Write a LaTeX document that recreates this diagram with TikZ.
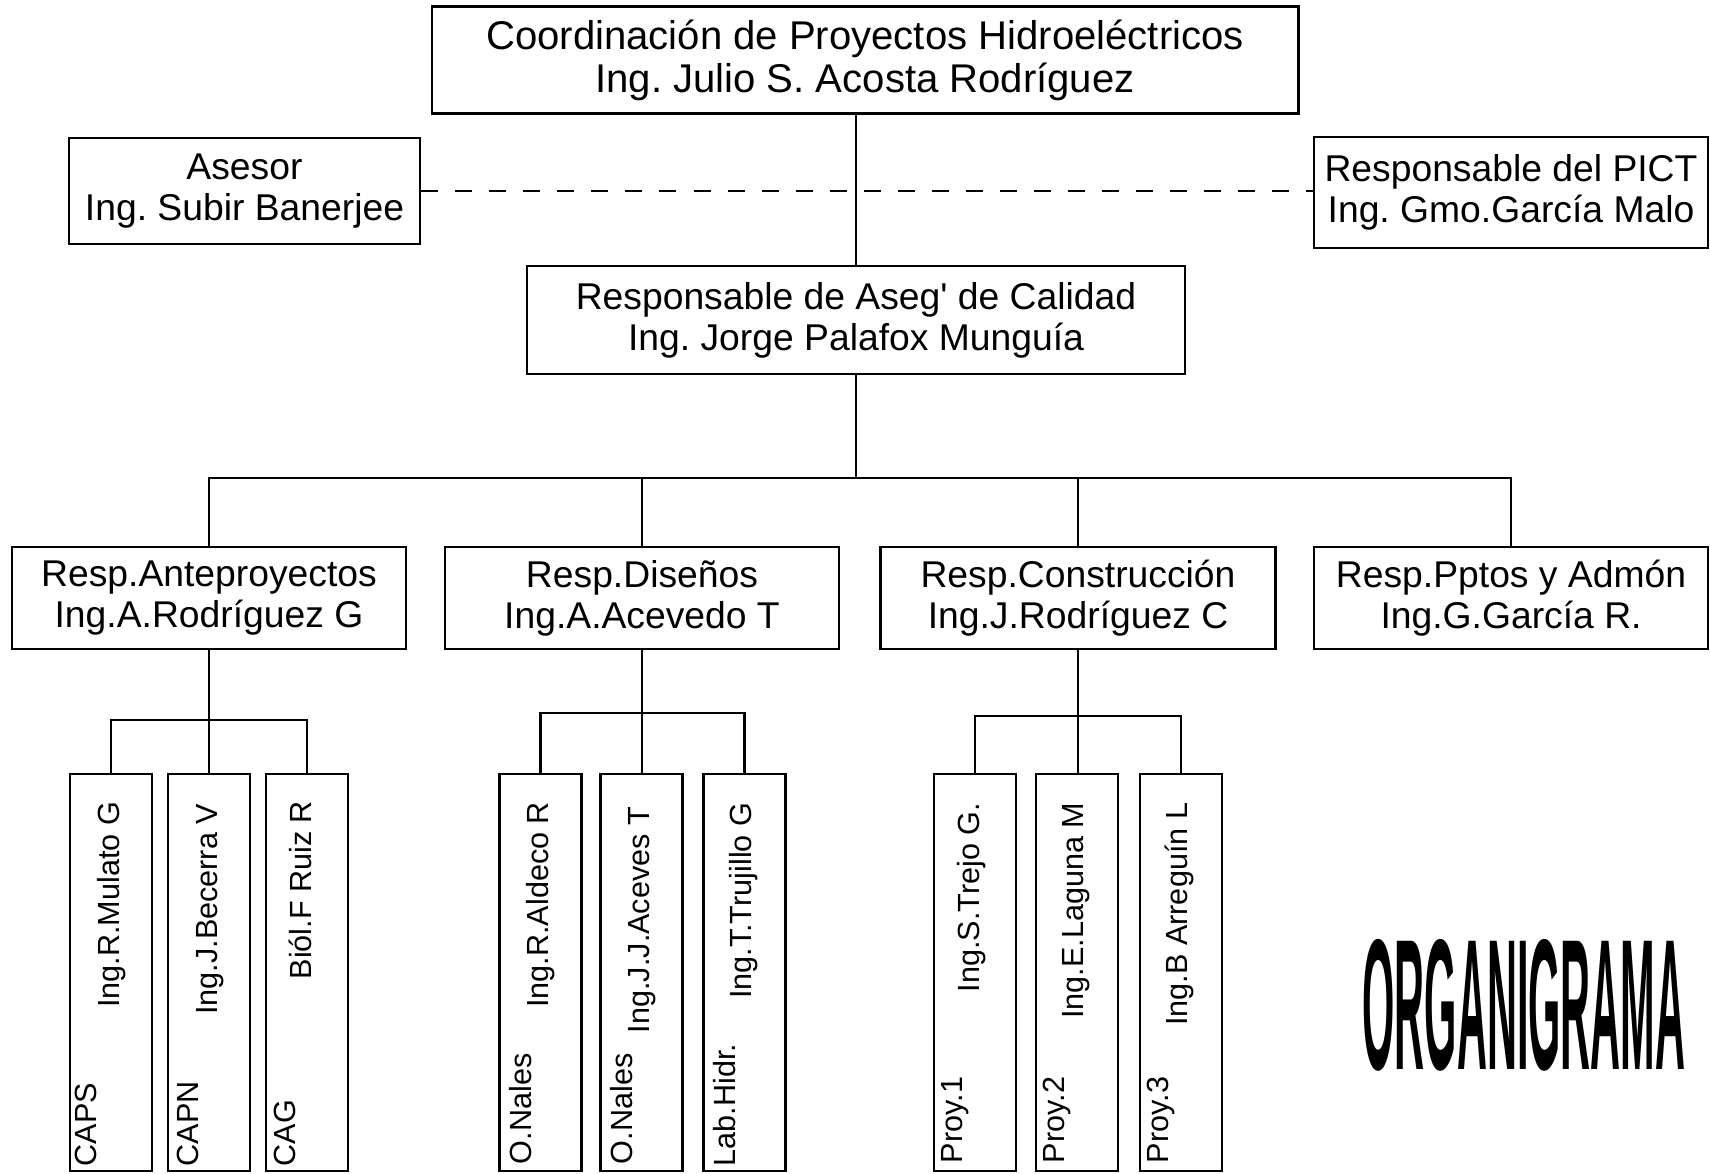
\documentclass[tikz,border=0pt]{standalone}
\usepackage{fontspec}
\setmainfont{Liberation Sans}
\usetikzlibrary{calc}
\frenchspacing

\begin{document}
\begin{tikzpicture}[
			x = 0.01cm, y = -0.01cm,
			line width = 0.7pt,
			box/.style = {draw, align=center, inner sep=0pt, font=\fontsize{10.6}{11.6}\selectfont},
			leaf/.style = {draw, inner sep=0pt, minimum width=0.82cm, minimum height=3.97cm},
			who/.style = {rotate=90, inner sep=0pt, font=\fontsize{8.7}{9}\selectfont}
			]

			\useasboundingbox (0,0) rectangle (1710,1173);

			\node[box, minimum width=8.66cm, minimum height=1.07cm, font=\fontsize{11.4}{12.2}\selectfont] (coord) at (865,60) {Coordinación de Proyectos Hidroeléctricos\\Ing. Julio S. Acosta Rodríguez};
			\node[box, minimum width=3.51cm, minimum height=1.06cm] (asesor) at (244.5,191) {Asesor\\Ing. Subir Banerjee};
			\node[box, minimum width=3.94cm, minimum height=1.11cm] (pict) at (1511,192.5) {Responsable del PICT\\Ing. Gmo.García Malo};
			\node[box, minimum width=6.58cm, minimum height=1.08cm] (aseg) at (856,320) {Responsable de Aseg\textquotesingle{} de Calidad\\Ing. Jorge Palafox Munguía};

			\draw[dash pattern=on 0.17cm off 0.17cm] (asesor.east) -- (asesor.east -| pict.west);
			\draw (aseg.north) -- (aseg.north |- coord.south);

			\node[box, minimum width=3.94cm, minimum height=1.02cm] (ante) at (209,598) {Resp.Anteproyectos\\Ing.A.Rodríguez G};
			\node[box, minimum width=3.94cm, minimum height=1.02cm] (dis) at (642,598) {Resp.Diseños\\Ing.A.Acevedo T};
			\node[box, minimum width=3.95cm, minimum height=1.02cm] (cons) at (1078,598) {Resp.Construcción\\Ing.J.Rodríguez C};
			\node[box, minimum width=3.94cm, minimum height=1.02cm] (pptos) at (1511,598) {Resp.Pptos y Admón\\Ing.G.García R.};

			\coordinate (bus) at (856,478);
			\draw (aseg.south) -- (bus);
			\draw (ante.north) -- (ante.north |- bus) -- (pptos.north |- bus) -- (pptos.north);
			\draw (dis.north) -- (dis.north |- bus);
			\draw (cons.north) -- (cons.north |- bus);

			\node[leaf] (caps) at (111,972.5) {};
			\node[leaf] (capn) at (209,972.5) {};
			\node[leaf] (cag) at (307,972.5) {};
			\node[who, anchor=base east] (caps-n) at ($(caps.north west)+(51,28)$) {Ing.R.Mulato G};
			\node[who, anchor=base east] (capn-n) at ($(capn.north west)+(51,30)$) {Ing.J.Becerra V};
			\node[who, anchor=base east] (cag-n) at ($(cag.north west)+(47,27)$) {Biól.F Ruiz R};
			\node[who, anchor=base west] (caps-l) at ($(caps.south west)+(28,-5)$) {CAPS};
			\node[who, anchor=base west] (capn-l) at ($(capn.south west)+(32,-5)$) {CAPN};
			\node[who, anchor=base west] (cag-l) at ($(cag.south west)+(31,-5)$) {CAG};
			\coordinate (anteB) at (209,720);
			\draw (ante.south) -- (ante.south |- capn.north);
			\draw (caps.north) -- (caps.north |- anteB) -- (cag.north |- anteB) -- (cag.north);

			\node[leaf] (onales1) at (540.5,972.5) {};
			\node[leaf] (onales2) at (641.5,972.5) {};
			\node[leaf] (labh) at (744.5,972.5) {};
			\node[who, anchor=base east] (onales1-n) at ($(onales1.north west)+(50,28)$) {Ing.R.Aldeco R};
			\node[who, anchor=base east] (onales2-n) at ($(onales2.north west)+(50,33)$) {Ing.J.J.Aceves T};
			\node[who, anchor=base east] (labh-n) at ($(labh.north west)+(49,29)$) {Ing.T.Trujillo G};
			\node[who, anchor=base west] (onales1-l) at ($(onales1.south west)+(33,-7)$) {O.Nales};
			\node[who, anchor=base west] (onales2-l) at ($(onales2.south west)+(33,-7)$) {O.Nales};
			\node[who, anchor=base west] (labh-l) at ($(labh.south west)+(33,-5)$) {Lab.Hidr.};
			\coordinate (disB) at (642,713);
			\draw (dis.south) -- (dis.south |- onales2.north);
			\draw (onales1.north) -- (onales1.north |- disB) -- (labh.north |- disB) -- (labh.north);

			\node[leaf] (proy1) at (975,972.5) {};
			\node[leaf] (proy2) at (1077,972.5) {};
			\node[leaf] (proy3) at (1181,972.5) {};
			\node[who, anchor=base east] (proy1-n) at ($(proy1.north west)+(47,29)$) {Ing.S.Trejo G.};
			\node[who, anchor=base east] (proy2-n) at ($(proy2.north west)+(49,29)$) {Ing.E.Laguna M};
			\node[who, anchor=base east] (proy3-n) at ($(proy3.north west)+(49,29)$) {Ing.B Arreguín L};
			\node[who, anchor=base west] (proy1-l) at ($(proy1.south west)+(30,-8)$) {Proy.1};
			\node[who, anchor=base west] (proy2-l) at ($(proy2.south west)+(30,-8)$) {Proy.2};
			\node[who, anchor=base west] (proy3-l) at ($(proy3.south west)+(30,-8)$) {Proy.3};
			\coordinate (consB) at (1078,716);
			\draw (cons.south) -- (cons.south |- proy2.north);
			\draw (proy1.north) -- (proy1.north |- consB) -- (proy3.north |- consB) -- (proy3.north);

			\node[inner sep=0pt, xscale=0.236, yscale=1.06, font=\fontsize{50}{50}\selectfont\bfseries] (titulo) at (1524,1005) {ORGANIGRAMA};

		\end{tikzpicture}
\end{document}
